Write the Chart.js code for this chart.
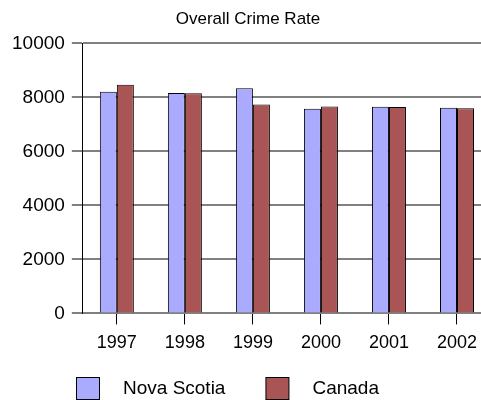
<!DOCTYPE html>
<html>
<head>
<meta charset="utf-8">
<script src="https://cdn.jsdelivr.net/npm/chart.js@4/dist/chart.umd.min.js"></script>
<style>
  html, body { margin: 0; padding: 0; background: #fff; overflow: hidden; }
  #wrap { width: 481px; height: 400px; overflow: hidden; position: relative; }
  canvas { display: block; }
</style>
</head>
<body>
<div id="wrap"><canvas id="c" width="498" height="400"></canvas></div>
<script>
const years = ['1997', '1998', '1999', '2000', '2001', '2002'];
const novaScotia = [8210, 8160, 8340, 7580, 7650, 7620];
const canada = [8470, 8150, 7740, 7660, 7640, 7600];
const yTicks = [0, 2000, 4000, 6000, 8000, 10000];

const FONT = '"Liberation Sans", Arial, sans-serif';

// Legend drawn underneath the axis labels: square swatch then series name.
const bottomLegend = {
  id: 'bottomLegend',
  afterDraw(chart) {
    const ctx = chart.ctx;
    ctx.save();
    ctx.font = '19px ' + FONT;
    ctx.textBaseline = 'middle';
    let x = 76;
    const top = 377, box = 22;
    chart.data.datasets.forEach(ds => {
      ctx.fillStyle = ds.backgroundColor;
      ctx.fillRect(x + 0.5, top + 0.5, 23, box);
      ctx.strokeStyle = '#000';
      ctx.lineWidth = 1;
      ctx.strokeRect(x + 0.5, top + 0.5, 23, box);
      ctx.fillStyle = '#000';
      ctx.fillText(ds.label, x + 47, top + box / 2 + 1);
      x += 47 + ctx.measureText(ds.label).width + 40;
    });
    ctx.restore();
  }
};

new Chart(document.getElementById('c'), {
  type: 'bar',
  data: {
    labels: years,
    datasets: [
      { label: 'Nova Scotia', data: novaScotia, backgroundColor: '#aaaaff', borderColor: '#000', borderWidth: 1 },
      { label: 'Canada', data: canada, backgroundColor: '#aa5555', borderColor: '#000', borderWidth: 1 }
    ]
  },
  options: {
    responsive: false,
    animation: false,
    categoryPercentage: 0.5,
    barPercentage: 1,
    layout: { padding: { left: 5, right: 7, top: 0, bottom: 38 } },
    plugins: {
      legend: { display: false },
      tooltip: { enabled: false },
      title: {
        display: true,
        text: 'Overall Crime Rate',
        color: '#000',
        font: { family: FONT, size: 17, weight: 'normal' },
        padding: { top: 9, bottom: 14 }
      }
    },
    scales: {
      x: {
        offset: true,
        grid: { offset: false, drawOnChartArea: false, drawTicks: true, tickLength: 11, color: '#000', lineWidth: 1 },
        border: { display: false },
        ticks: { color: '#000', padding: 8, font: { family: FONT, size: 18 } }
      },
      y: {
        min: 0,
        max: 10000,
        afterBuildTicks(scale) { scale.ticks = yTicks.map(v => ({ value: v })); },
        grid: { color: '#808080', lineWidth: 2, tickLength: 11, drawTicks: true },
        border: { display: true, color: '#000', width: 1 },
        ticks: { color: '#000', padding: 7, font: { family: FONT, size: 19 }, callback: v => String(v) }
      }
    }
  },
  plugins: [bottomLegend]
});
</script>
</body>
</html>
